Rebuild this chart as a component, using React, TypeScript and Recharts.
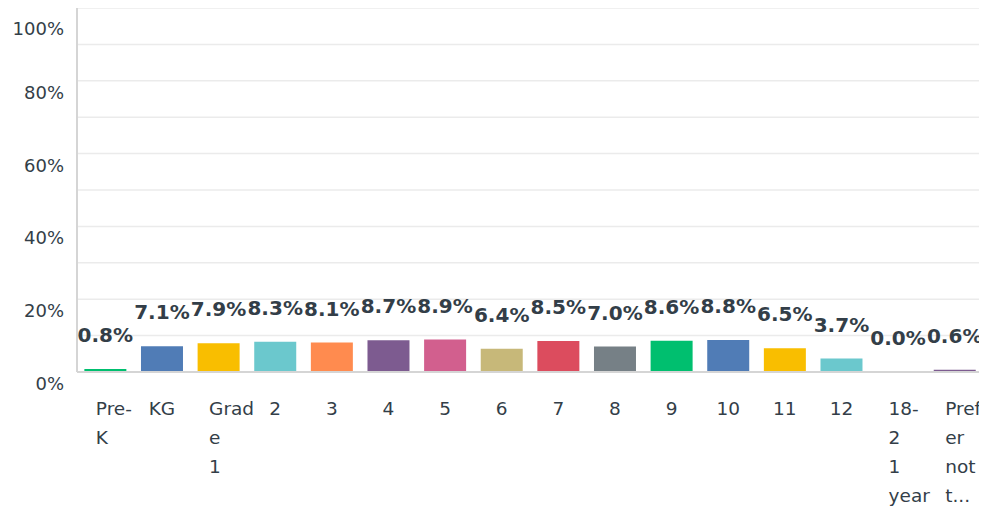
import React from "react";
import { ComposedChart, Bar, Line, XAxis, YAxis, CartesianGrid, Cell, LabelList } from "recharts";

const categories = ["Pre-K", "KG", "Grade 1", "2", "3", "4", "5", "6", "7", "8", "9", "10", "11", "12", "18-21 year", "Prefer not t..."];
const tickLines = [
  ["Pre-", "K"],
  ["KG"],
  ["Grad", "e", "1"],
  ["2"], ["3"], ["4"], ["5"], ["6"], ["7"], ["8"], ["9"], ["10"], ["11"], ["12"],
  ["18-", "2", "1", "year"],
  ["Pref", "er", "not", "t..."],
];
const values = [0.8, 7.1, 7.9, 8.3, 8.1, 8.7, 8.9, 6.4, 8.5, 7.0, 8.6, 8.8, 6.5, 3.7, 0.0, 0.6];
const colors = ["#00BF6F", "#507CB6", "#F9BE00", "#6BC8CD", "#FF8B4F", "#7D5B90", "#D25F8E", "#C7B879", "#DC4C5E", "#768086", "#00BF6F", "#507CB6", "#F9BE00", "#6BC8CD", "#FF8B4F", "#7D5B90"];
const yTicks = [0, 10, 20, 30, 40, 50, 60, 70, 80, 90, 100];

const data = categories.map((c, i) => ({ name: c, value: values[i] }));

const FONT = "'DejaVu Sans', sans-serif";
const TEXT = "#333e48";

const XTick = (props: any) => {
  const { x, y, payload } = props;
  const lines = tickLines[payload.index] || [String(payload.value)];
  const multi = lines.length > 1;
  return (
    <g>
      {lines.map((l, i) => (
        <text
          key={i}
          x={multi ? x - 9.5 : x}
          y={y + 35 + i * 29}
          textAnchor={multi ? "start" : "middle"}
          fill={TEXT}
          fontFamily={FONT}
          fontSize={18.5}
        >
          {l}
        </text>
      ))}
    </g>
  );
};

const YTick = (props: any) => {
  const { x, y, payload } = props;
  if (payload.value % 20 !== 0) return null;
  return (
    <text x={x - 5} y={y + 18} textAnchor="end" fill={TEXT} fontFamily={FONT} fontSize={18}>
      {payload.value}%
    </text>
  );
};

export default function App() {
  return (
    <div style={{ width: 979, height: 502 }}>
      <ComposedChart
        width={979}
        height={502}
        data={data}
        margin={{ top: 0, right: 4, bottom: 0, left: 0 }}
        barCategoryGap="13%"
      >
        <CartesianGrid horizontal vertical={false} stroke="#ebebeb" strokeWidth={1.5} />
        <XAxis
          dataKey="name"
          interval={0}
          height={138}
          tickLine={false}
          axisLine={{ stroke: "#d5d5d5", strokeWidth: 2 }}
          tick={<XTick />}
        />
        <YAxis
          domain={[0, 100]}
          ticks={yTicks}
          width={69}
          tickLine={false}
          axisLine={{ stroke: "#d5d5d5", strokeWidth: 2 }}
          tick={<YTick />}
        />
        <Bar dataKey="value" isAnimationActive={false}>
          {data.map((d, i) => (
            <Cell key={i} fill={colors[i]} />
          ))}
        </Bar>
        <Line
          dataKey="value"
          stroke="none"
          strokeWidth={0}
          dot={false}
          activeDot={false}
          isAnimationActive={false}
        >
          <LabelList
            dataKey="value"
            position="top"
            offset={27}
            formatter={(v: any) => `${Number(v).toFixed(1)}%`}
            style={{ fontFamily: FONT, fontSize: 20, fontWeight: 700, fill: TEXT }}
          />
        </Line>
      </ComposedChart>
    </div>
  );
}
